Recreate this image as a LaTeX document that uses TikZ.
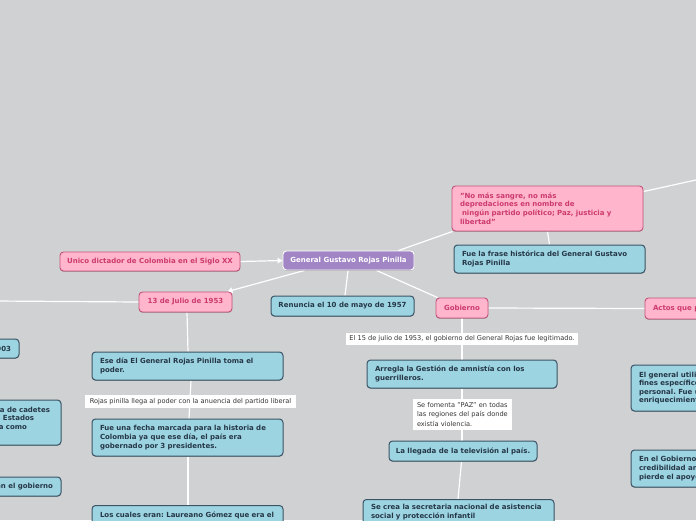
\documentclass[tikz,border=0pt]{standalone}
\usepackage{fontspec}
\setmainfont{DejaVu Sans}
\usetikzlibrary{shadows,arrows.meta}
\pgfdeclarelayer{back}
\pgfdeclarelayer{lines}
\pgfsetlayers{back,lines,main}

\definecolor{bgc}{HTML}{D0D1D3}
\definecolor{pinkfill}{HTML}{FFB5CC}
\definecolor{pinkdraw}{HTML}{C4527A}
\definecolor{pinktext}{HTML}{CC3A6E}
\definecolor{bluefill}{HTML}{9DD4E2}
\definecolor{bluedraw}{HTML}{3B5567}
\definecolor{bluetext}{HTML}{253746}
\definecolor{purplefill}{HTML}{A185C4}
\definecolor{labtext}{HTML}{333333}

\newcommand{\bfs}{\fontsize{7}{8.6}\selectfont\bfseries}
\newcommand{\rgs}{\fontsize{6.6}{9.5}\selectfont}
\frenchspacing

\tikzset{
  basebox/.style={rounded corners=3.5pt, inner xsep=0pt, inner ysep=0pt, font=\bfs,
     drop shadow={shadow xshift=0pt, shadow yshift=-0.8pt, opacity=0.25, fill=black}},
  pinkbox/.style={basebox, fill=pinkfill, draw=pinkdraw, line width=0.9pt, text=pinktext},
  bluebox/.style={basebox, fill=bluefill, draw=bluedraw, line width=1pt, text=bluetext},
  purplebox/.style={basebox, fill=purplefill, draw=white, line width=0.9pt, text=white},
  labbox/.style={fill=white, inner sep=0pt, text=labtext, font=\rgs},
  conn/.style={draw=white, line width=1.2pt},
  arr/.style={conn, -{Triangle[length=5pt,width=5.5pt,fill=white]}},
}

\begin{document}
\begin{tikzpicture}[x=1pt,y=-1pt]
\begin{pgfonlayer}{back}
\fill[bgc] (0,0) rectangle (696,520);
\end{pgfonlayer}
\useasboundingbox (0,0) rectangle (696,520);
\clip (0,0) rectangle (696,520);

% central
\node[purplebox, minimum width=131pt, minimum height=19pt] (central) at (348.5,260.5) {General Gustavo Rojas Pinilla};
\node[pinkbox, minimum width=180pt, minimum height=19pt] (unico) at (150,261.5) {Unico dictador de Colombia en el Siglo XX};
\node[pinkbox, minimum width=93pt, minimum height=20pt] (julio) at (185.5,302) {13 de Julio de 1953};
\node[bluebox, minimum width=143pt, minimum height=20pt] (renuncia) at (342.5,306) {Renuncia el 10 de mayo de 1957};
\node[pinkbox, minimum width=191pt, minimum height=45pt, text width=175pt, align=left] (quote) at (547.5,208.5)
  {"No más sangre, no más\\depredaciones en nombre de\\\hspace*{2pt}ningún partido político; Paz, justicia y\\libertad"};
\node[bluebox, minimum width=191pt, minimum height=28pt, text width=175pt, align=left] (frase) at (549.5,259)
  {Fue la frase histórica del General Gustavo\\Rojas Pinilla};
\node[pinkbox, minimum width=52pt, minimum height=20pt] (gobierno) at (462,308) {Gobierno};
\node[pinkbox, minimum width=115pt, minimum height=21pt, text width=99pt, align=left] (actos) at (702.5,308.5) {Actos que p};

% Gobierno branch
\node[labbox, minimum width=232pt, minimum height=12pt] (lab1) at (462,339) {El 15 de julio de 1953, el gobierno del General Rojas fue legitimado.};
\node[bluebox, minimum width=190pt, minimum height=28pt, text width=174pt, align=left] (arregla) at (462,374)
  {Arregla la Gestión de amnistía con los\\guerrilleros.};
\node[labbox, minimum width=99pt, minimum height=31pt, text width=91pt, align=left, font=\fontsize{6.6}{9.5}\selectfont] (lab2) at (462.5,414.5)
  {\mbox{Se fomenta "PAZ" en todas}\\\mbox{las regiones del país donde}\\\mbox{existía violencia.}};
\node[bluebox, minimum width=148pt, minimum height=20pt] (llegada) at (463,451) {La llegada de la televisión al país.};
\node[bluebox, anchor=north, minimum width=191pt, inner ysep=5pt, text width=175pt, align=left] (secretaria) at (458.5,499)
  {Se crea la secretaria nacional de asistencia\\social y protección infantil};

% 13 de Julio branch
\node[bluebox, minimum width=191pt, minimum height=28pt, text width=175pt, align=left] (ese) at (187.5,366)
  {Ese día El General Rojas Pinilla toma el\\poder.};
\node[labbox, minimum width=211pt, minimum height=13pt] (lab3) at (190.5,401.5) {Rojas pinilla llega al poder con la anuencia del partido liberal};
\node[bluebox, minimum width=191pt, minimum height=37pt, text width=175pt, align=left] (fecha) at (187.5,437.5)
  {Fue una fecha marcada para la historia de\\Colombia ya que ese día, el país era\\gobernado por 3 presidentes.};
\node[bluebox, anchor=north, minimum width=191pt, inner ysep=6pt, text width=175pt, align=left] (cuales) at (187.5,505)
  {Los cuales eran: Laureano Gómez que era el\\\mbox{}};

% left edge boxes
\node[bluebox, minimum width=59pt, minimum height=19pt, text width=43pt, align=right] (left1) at (-10.5,348.5) {1903};
\node[bluebox, minimum width=181pt, minimum height=45pt, text width=165pt, align=left] (left2) at (-29.5,422.5)
  {\makebox[162pt][r]{academia de cadetes}\\\makebox[146pt][r]{los Estados}\\\makebox[139pt][r]{a como}\\\mbox{}};
\node[bluebox, minimum width=181pt, minimum height=19pt, text width=165pt, align=right] (left3) at (-29.5,486.5) {en el gobierno};

% right edge boxes
\node[bluebox, minimum width=169pt, minimum height=46pt, text width=153pt, align=left] (right1) at (715.5,388)
  {El general utilizó\\fines específicos\\personal. Fue un\\enriquecimiento};
\node[bluebox, minimum width=169pt, minimum height=37pt, text width=153pt, align=left] (right2) at (715.5,468.5)
  {En el Gobierno\\credibilidad an\\pierde el apoyo};

\coordinate (offleft) at (-5,301);
\coordinate (offright) at (705,178);

\begin{pgfonlayer}{lines}
\draw[arr] (unico.east) -- (central.west);
\draw[arr] ([xshift=-44pt]central.south) -- ([xshift=-5pt]julio.north east);
\draw[conn] ([xshift=-0.5pt]central.south) -- ([xshift=2.5pt]renuncia.north);
\draw[conn] ([xshift=28pt]central.south) -- ([xshift=2pt]gobierno.north west);
\draw[conn] ([xshift=-16pt]central.north east) -- ([xshift=1pt]quote.south west);
\draw[conn] ([yshift=-6pt]quote.north east) -- (offright);
\draw[conn] (quote.south) -- (frase.north);
\draw[conn] (gobierno.east) -- (actos.west);
\draw[conn] (gobierno.south) -- (arregla.north);
\draw[conn] (arregla.south) -- ([xshift=-1pt]llegada.north);
\draw[conn] ([xshift=-1.5pt]llegada.south) -- ([xshift=-0.5pt]secretaria.north);
\draw[conn] (julio.west) -- (offleft);
\draw[conn] ([xshift=1.5pt]julio.south) -- ([xshift=0.5pt]ese.north);
\draw[conn] ([xshift=3.5pt]ese.south) -- ([xshift=1.5pt]fecha.north);
\draw[conn] ([xshift=0.5pt]fecha.south) -- ([xshift=0.5pt]cuales.north);
\end{pgfonlayer}
\end{tikzpicture}
\end{document}
